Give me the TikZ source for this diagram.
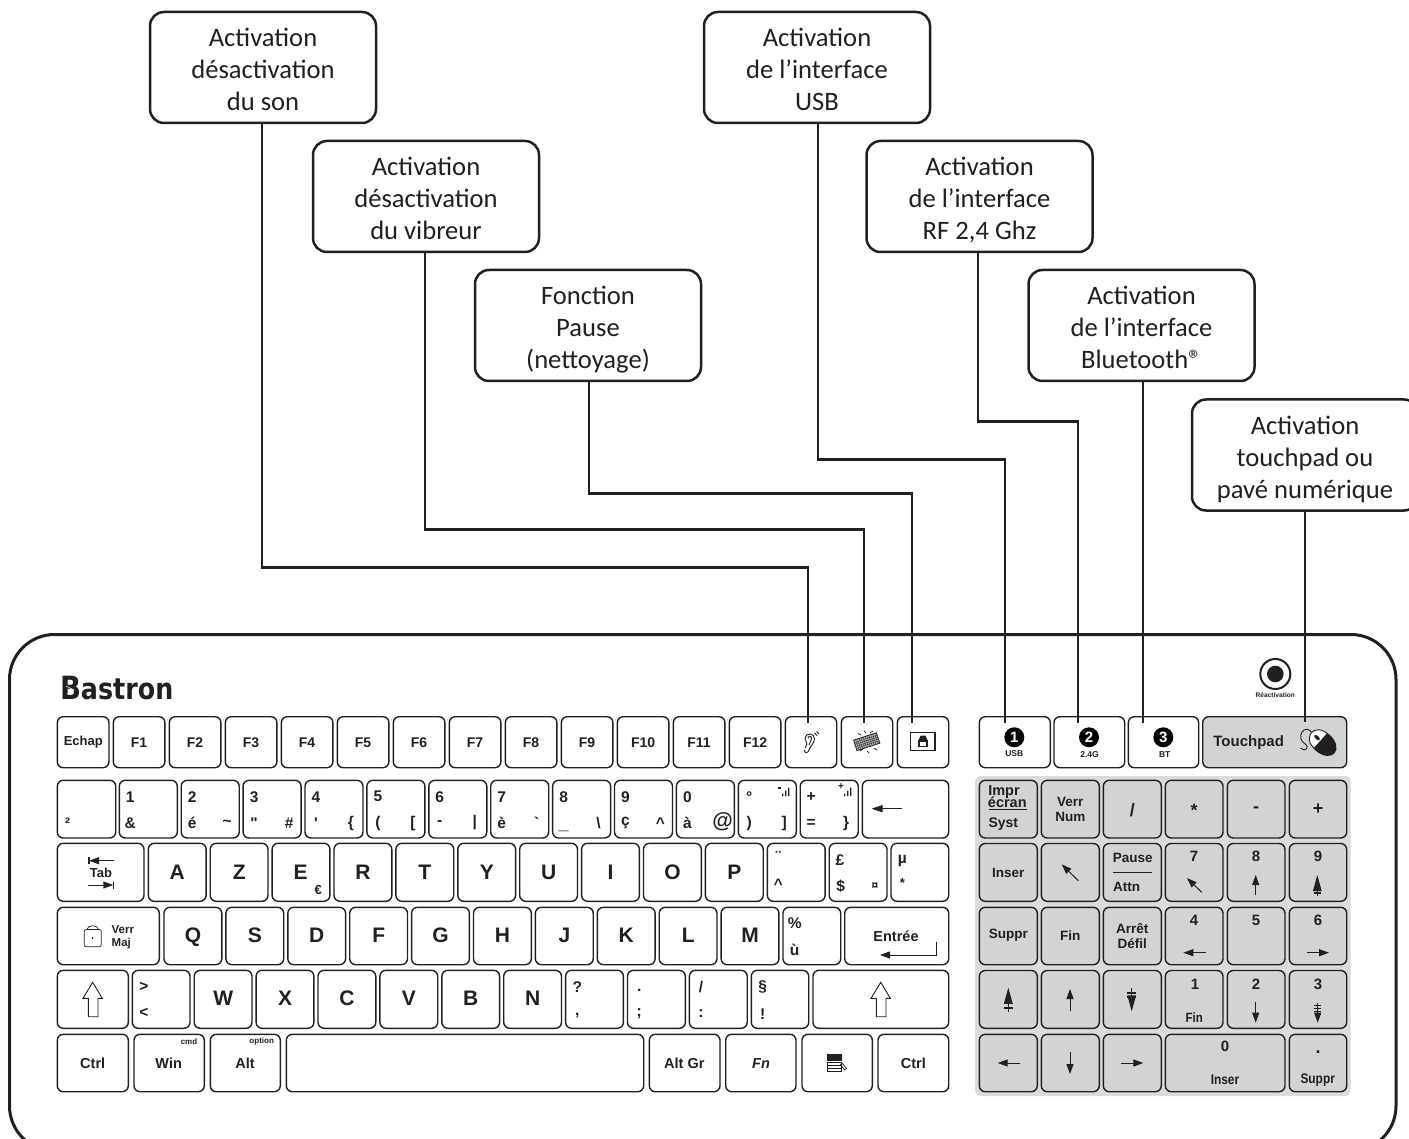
\documentclass[tikz,border=0pt]{standalone}
\usepackage{fontspec}
\usetikzlibrary{arrows.meta}
\newfontfamily\kf{Liberation Sans}
\newfontfamily\cf[Ligatures=Common]{Carlito}
\newfontfamily\lf{DejaVu Sans}
\definecolor{ink}{HTML}{231F20}
\definecolor{padgrey}{HTML}{D1D3D4}
\definecolor{padbg}{HTML}{D9DBDC}
\newcounter{lbc}
\newcommand\cs{\rule[-5pt]{0pt}{32pt}}
\tikzset{
  keybox/.style={draw=ink,line width=1.4pt,rounded corners=6pt,inner sep=0pt,outer sep=0pt},
  padkey/.style={keybox,fill=padgrey},
  keytext/.style={inner sep=0pt,outer sep=0pt,text=ink,font=\kf\bfseries},
  callout/.style={draw=ink,fill=white,line width=2.5pt,rounded corners=14pt,minimum width=226pt,minimum height=111pt,inner sep=0pt,align=center,text=ink,font=\cf\fontsize{26.6}{32}\selectfont},
  conn/.style={draw=ink,line width=2.7pt},
  sa/.style={-{Triangle[length=10pt,width=7pt]},draw=ink,line width=1pt},
  sab/.style={-{Triangle[length=16pt,width=8.5pt]},draw=ink,line width=1pt},
  dsh/.style={draw=ink,line width=1.3pt},
}
% key: [style]{name}{x1}{y1}{x2}{y2}
\newcommand\kk[6][keybox]{\node[#1,minimum width={((#5)-(#3))*1pt},minimum height={((#6)-(#4))*1pt}] (#2) at ({((#3)+(#5))/2},{((#4)+(#6))/2}) {};}
% label: [opts]{size}{x}{y}{text}
\newcommand\lb[5][]{\stepcounter{lbc}\node[keytext,#1] (t\arabic{lbc}) at ({#3},{#4}) {\fontsize{#2}{#2}\selectfont #5};}
% number row key
\newcommand\nk[4]{\kk{n#1}{119.3+61.9*#1}{780.3}{119.3+61.9*#1+58}{838}
  \lb{15.5}{119.3+61.9*#1+11}{796.7}{#2}
  \lb{15.5}{119.3+61.9*#1+11}{823}{#3}
  \lb{15.5}{119.3+61.9*#1+46}{823}{#4}}
% letter key
\newcommand\lk[5]{\kk{k#1}{#2}{#3}{#2+57.8}{#4}\lb{21}{#2+29}{#5}{#1}}
\newcommand\sgn[1]{\fill[ink] (#1,796) rectangle ++(1.4,-2.5) (#1+3,796) rectangle ++(1.4,-5.5) (#1+6,796) rectangle ++(1.4,-8.5);}
\begin{document}
\begin{tikzpicture}[x=1pt,y=-1pt]
\useasboundingbox (0,0) rectangle (1409,1139);
\begin{scope}
\clip (0,0) rectangle (1409,1139);
% keyboard body
\draw[ink,line width=3pt,rounded corners=45pt] (9.5,1151) -- (9.5,634.5) -- (1396,634.5) -- (1396,1151) -- cycle;
% logo
\lb[anchor=base west]{28}{60}{699.3}{\lf\bfseries\scalebox{.86}[1]{\fontsize{32}{32}\selectfont B\fontsize{29.5}{32}\selectfont astron}}
\draw[white,line width=.5pt] (74,690) -- (66,686) (74,690) -- (67,694);
% row 1
\kk{esc}{57.3}{716.7}{109}{767.7}\lb{13}{83.3}{742.3}{Echap}
\foreach \i in {1,...,12}{
  \kk{f\i}{113.3+56*(\i-1)}{716.7}{113.3+56*(\i-1)+51.6}{767.7}
  \lb{14}{139.1+56*(\i-1)}{742.3}{F\i}}
\kk{ear}{785.3}{716.7}{836.7}{767.7}
\kk{vib}{841.3}{716.7}{892.7}{767.7}
\kk{lockk}{897.3}{716.7}{948.7}{767.7}
% ear icon
\draw[ink,line width=.9pt] (804,750) .. controls (805,754) and (808,753) .. (809,750) .. controls (810,746) and (814,744) .. (814.5,739) .. controls (815,733) and (806,732) .. (805,738) .. controls (805,741) and (807,742) .. (807,744) .. controls (807,746) and (805,746) .. (805,748);
\draw[ink,line width=.9pt] (808,738) .. controls (809,735) and (812,736) .. (811.5,739) .. controls (811,742) and (809,743) .. (809,745);
\draw[ink,line width=.9pt] (814.5,733) -- (817,735.5) (816.5,731.5) -- (819,734);
% vibrating keyboard icon
\begin{scope}[shift={(866.7,741.7)},rotate=18]
\fill[gray!60] (-12,-5.5) rectangle (12,5.5);
\draw[ink,line width=.8pt] (-12,-5.5) rectangle (12,5.5);
\foreach \u in {-10,-8,...,10}{\draw[ink,line width=.3pt] (\u,-5.5) -- (\u,5.5);}
\foreach \v in {-3,-1,1,3}{\draw[ink,line width=.3pt] (-12,\v) -- (12,\v);}
\end{scope}
\draw[ink,line width=.7pt] (858,733.5) -- (861,735) (864,730.5) -- (866,733) (870,733) -- (873,731) (860,751) -- (863,749) (867,751) -- (869,753) (874,748) -- (877,750);
% lock key icon
\draw[ink,line width=1.1pt,fill=white] (910.3,732.3) rectangle (935,750.7);
\fill[ink] (920.5,735.5) -- (925.5,735.5) -- (927.7,741) -- (918.3,741) -- cycle;
\draw[ink,line width=1.3pt,fill=white] (918.9,741) rectangle (927.1,746.6);
% row 2
\kk{sq}{57.3}{780.3}{115.7}{838}\lb{15}{67.7}{823.5}{²}
\nk{0}{1}{\&}{}
\nk{1}{2}{é}{\textasciitilde}
\nk{2}{3}{\symbol{34}}{\#}
\nk{3}{4}{\symbol{39}}{\{}
\nk{4}{5}{(}{[}
\nk{5}{6}{-}{|}
\nk{6}{7}{è}{\symbol{96}}
\kk{n7}{119.3+61.9*7}{780.3}{119.3+61.9*7+58}{838}
\lb{15.5}{563.6}{796.7}{8}\lb{18}{563.6}{830.5}{\_}\lb{15.5}{598.6}{823}{\textbackslash}
\nk{8}{9}{ç}{\symbol{94}}
\kk{n9}{119.3+61.9*9}{780.3}{119.3+61.9*9+58}{838}
\lb{15.5}{687.4}{796.7}{0}\lb{15.5}{687.4}{823}{à}\lb{21}{722.5}{822}{@}
\nk{10}{°}{)}{]}
\sgn{782}\fill[ink] (778,787) rectangle ++(3,1.6);
\nk{11}{+}{=}{\}}
\sgn{844}\lb{10}{841}{787}{+}
\kk{bksp}{862.3}{780.3}{948.7}{838}
\coordinate (bk1) at (901.7,808.7);\coordinate (bk2) at (871.5,808.7);
\draw[sa,-{Triangle[length=11pt,width=7pt]}] (bk1) -- (bk2);
% row 3
\kk{tab}{57.3}{843.3}{144}{901.3}
\lb{13}{101}{872.7}{Tab}
\draw[sa] (114,860.7) -- (89,860.7);\draw[ink,line width=1.3pt] (89,857.2) -- (89,864.2);
\draw[sa] (88.3,885) -- (113.3,885);\draw[ink,line width=1.3pt] (113.5,881.5) -- (113.5,888.5);
\lk{A}{148.3}{843.3}{901.3}{872.7}
\lk{Z}{210.2}{843.3}{901.3}{872.7}
\kk{kE}{272.1}{843.3}{329.9}{901.3}\lb{21}{300.7}{872.7}{E}\lb{13}{318.3}{890}{€}
\lk{R}{334}{843.3}{901.3}{872.7}
\lk{T}{395.9}{843.3}{901.3}{872.7}
\lk{Y}{457.8}{843.3}{901.3}{872.7}
\lk{U}{519.7}{843.3}{901.3}{872.7}
\lk{I}{581.6}{843.3}{901.3}{872.7}
\lk{O}{643.5}{843.3}{901.3}{872.7}
\lk{P}{705.4}{843.3}{901.3}{872.7}
\kk{kdier}{767.3}{843.3}{825.1}{901.3}\lb{16}{778.3}{856.5}{¨}\lb{15}{778.3}{884.5}{\symbol{94}}
\kk{kpound}{829.2}{843.3}{887}{901.3}\lb{15.5}{840}{860}{£}\lb{15.5}{840.7}{886}{\$}\lb{12}{875}{886}{¤}
\kk{kmu}{891}{843.3}{948.7}{901.3}\lb{15.5}{902.3}{861}{µ}\lb{13}{902.3}{883.3}{*}
% row 4
\kk{caps}{57.3}{907.3}{159.3}{964.7}
\draw[ink,line width=.7pt,rounded corners=2pt] (84.3,929.5) -- (84.3,946.7) -- (101.3,946.7) -- (101.3,929.5) -- cycle;
\draw[ink,line width=.7pt] (87,929.5) .. controls (87,924.5) and (98.5,924.5) .. (98.5,929.5);
\fill[ink] (92.3,936.5) rectangle ++(1,2);
\lb[anchor=west]{11.5}{111.7}{929.3}{Verr}\lb[anchor=west]{11.5}{111.7}{943.3}{Maj}
\lk{Q}{164}{907.3}{964.7}{937}
\lk{S}{225.9}{907.3}{964.7}{935.7}
\lk{D}{287.8}{907.3}{964.7}{935.7}
\lk{F}{349.7}{907.3}{964.7}{935.7}
\lk{G}{411.6}{907.3}{964.7}{935.7}
\lk{H}{473.5}{907.3}{964.7}{935.7}
\lk{J}{535.4}{907.3}{964.7}{935.7}
\lk{K}{597.3}{907.3}{964.7}{935.7}
\lk{L}{659.2}{907.3}{964.7}{935.7}
\lk{M}{721.1}{907.3}{964.7}{935.7}
\kk{kperc}{783}{907.3}{840.7}{964.7}\lb{15.5}{794.7}{923.3}{\%}\lb{15.5}{794.7}{950}{ù}
\kk{enter}{844.7}{907.3}{948.7}{964.7}\lb{14.5}{896}{936}{Entrée}
\draw[sa,line width=.9pt] (936.7,941.7) -- (936.7,955) -- (880,955);
% row 5
\kk{lsh}{57.3}{970.3}{128.3}{1028.3}
\draw[ink,line width=.9pt] (92.7,982.3) -- (102.3,998.3) -- (98,998.3) -- (98,1016.7) -- (88.3,1016.7) -- (88.3,998.3) -- (83,998.3) -- cycle;
\kk{kgt}{132.3}{970.3}{190}{1028.3}\lb{15.5}{144}{986.7}{>}\lb{15.5}{144}{1013.3}{<}
\lk{W}{194.2}{970.3}{1028.3}{998.3}
\lk{X}{256.1}{970.3}{1028.3}{998.3}
\lk{C}{318}{970.3}{1028.3}{998.3}
\lk{V}{379.9}{970.3}{1028.3}{998.3}
\lk{B}{441.8}{970.3}{1028.3}{998.3}
\lk{N}{503.7}{970.3}{1028.3}{998.3}
\kk{kq}{565.6}{970.3}{623.4}{1028.3}\lb{15.5}{577.3}{986.7}{?}\lb{15.5}{577.3}{1016}{,}
\kk{kdot}{627.5}{970.3}{685.3}{1028.3}\lb{15.5}{639.3}{990}{.}\lb{15.5}{639.3}{1014}{;}
\kk{kslash}{689.4}{970.3}{747.2}{1028.3}\lb{15.5}{701}{987}{/}\lb{15.5}{701}{1014}{:}
\kk{ksec}{751.3}{970.3}{808.7}{1028.3}\lb{15.5}{762.7}{987}{§}\lb{15.5}{762.7}{1014}{!}
\kk{rsh}{813}{970.3}{948.7}{1028.3}
\draw[ink,line width=.9pt] (880.7,982.3) -- (890.3,998.3) -- (886,998.3) -- (886,1016.7) -- (876.3,1016.7) -- (876.3,998.3) -- (871,998.3) -- cycle;
% row 6
\kk{lctrl}{57.3}{1034.3}{128.3}{1091.7}\lb{14.5}{92.7}{1063.3}{Ctrl}
\kk{win}{134}{1034.3}{204.3}{1091.7}\lb{14.5}{168.7}{1063.3}{Win}\lb{8}{189}{1041.7}{cmd}
\kk{alt}{210.3}{1034.3}{280.3}{1091.7}\lb{14.5}{245}{1063.3}{Alt}\lb{8}{261.7}{1041.7}{option}
\kk{space}{286.3}{1034.3}{643.7}{1091.7}
\kk{altgr}{649.3}{1034.3}{720}{1091.7}\lb{14.5}{684.3}{1063.3}{Alt Gr}
\kk{fnk}{725.7}{1034.3}{796}{1091.7}\lb{14.5}{761}{1063.3}{\itshape Fn}
\kk{menu}{802}{1034.3}{872.3}{1091.7}
\fill[ink] (827,1054) rectangle (841.7,1061);
\draw[ink,line width=.9pt] (827.5,1062) rectangle (841,1071.5) (827.5,1065) -- (841,1065) (827.5,1068) -- (841,1068);
\draw[ink,line width=.7pt] (841,1062) -- (846.5,1068.5) -- (844.5,1070) -- (840,1064);
\kk{rctrl}{878}{1034.3}{948.7}{1091.7}\lb{14.5}{913.3}{1063.3}{Ctrl}
% reactivation
\node[circle,draw=ink,line width=2pt,minimum size=30pt,inner sep=0pt] (react) at (1275.3,674) {};
\fill[ink] (react.center) circle (8.3);
\lb{6.6}{1275.3}{695.3}{Réactivation}
% mode keys
\kk{usb}{979.3}{716.7}{1050.3}{767.7}
\kk{rf}{1054}{716.7}{1124.7}{767.7}
\kk{bt}{1128.3}{716.7}{1198.7}{767.7}
\kk[padkey]{tp}{1202.7}{716.7}{1346.7}{767.7}
\foreach \nm/\xx/\dg in {a/1014.3/1,b/1089/2,c/1163.3/3}{
  \node[circle,fill=black,minimum size=20pt,inner sep=0pt,text=white,font=\kf\bfseries\fontsize{15}{15}\selectfont] (num\nm) at (\xx,737.3) {\dg};}
\lb{8.5}{1014.3}{754}{USB}\lb{8.5}{1089.5}{754.5}{2.4G}\lb{8.5}{1164.7}{754.5}{BT}
\lb{15}{1248.7}{743}{Touchpad}
% mouse icon
\draw[ink,line width=.9pt] (1314,737) .. controls (1312,731) and (1308,727.5) .. (1304,730) .. controls (1300,733) and (1300,738) .. (1302,741) .. controls (1304,744) and (1309,745) .. (1306.5,749) .. controls (1305,750.5) and (1303,750) .. (1300.5,748);
\begin{scope}[shift={(1323,743)},rotate=-42]
\fill[ink] (0,0) ellipse (15.5 and 10.5);
\draw[ink,line width=.9pt,fill=white] (-3,-9.8) .. controls (-13,-9.8) and (-15.5,-3) .. (-15.5,0) .. controls (-15.5,3) and (-13,9.8) .. (-3,9.8) -- cycle;
\fill[ink] (-8,0) ellipse (3.5 and 1.8);
\end{scope}
% numpad
\fill[padbg,rounded corners=6pt] (975,776) rectangle (1350.7,1096);
\kk[padkey]{p11}{979.3}{780.3}{1037.3}{838}
\kk[padkey]{p12}{1041.3}{780.3}{1099.3}{838}
\kk[padkey]{p13}{1103.3}{780.3}{1161.3}{838}
\kk[padkey]{p14}{1165.3}{780.3}{1223}{838}
\kk[padkey]{p15}{1227.3}{780.3}{1285}{838}
\kk[padkey]{p16}{1289.3}{780.3}{1346.7}{838}
\kk[padkey]{p21}{979.3}{843.5}{1037.3}{901.3}
\kk[padkey]{p22}{1041.3}{843.5}{1099.3}{901.3}
\kk[padkey]{p23}{1103.3}{843.5}{1161.3}{901.3}
\kk[padkey]{p24}{1165.3}{843.5}{1223}{901.3}
\kk[padkey]{p25}{1227.3}{843.5}{1285}{901.3}
\kk[padkey]{p26}{1289.3}{843.5}{1346.7}{901.3}
\kk[padkey]{p31}{979.3}{907.3}{1037.3}{964.7}
\kk[padkey]{p32}{1041.3}{907.3}{1099.3}{964.7}
\kk[padkey]{p33}{1103.3}{907.3}{1161.3}{964.7}
\kk[padkey]{p34}{1165.3}{907.3}{1223}{964.7}
\kk[padkey]{p35}{1227.3}{907.3}{1285}{964.7}
\kk[padkey]{p36}{1289.3}{907.3}{1346.7}{964.7}
\kk[padkey]{p41}{979.3}{970.5}{1037.3}{1028.3}
\kk[padkey]{p42}{1041.3}{970.5}{1099.3}{1028.3}
\kk[padkey]{p43}{1103.3}{970.5}{1161.3}{1028.3}
\kk[padkey]{p44}{1165.3}{970.5}{1223}{1028.3}
\kk[padkey]{p45}{1227.3}{970.5}{1285}{1028.3}
\kk[padkey]{p46}{1289.3}{970.5}{1346.7}{1028.3}
\kk[padkey]{p51}{979.3}{1034.3}{1037.3}{1091.7}
\kk[padkey]{p52}{1041.3}{1034.3}{1099.3}{1091.7}
\kk[padkey]{p53}{1103.3}{1034.3}{1161.3}{1091.7}
\kk[padkey]{p54}{1165.3}{1034.3}{1285}{1091.7}
\kk[padkey]{p56}{1289.3}{1034.3}{1346.7}{1091.7}
% numpad labels
\lb{14.5}{1004}{791.7}{Impr}\lb{14.5}{1007.3}{802.7}{écran}\lb{14}{1003.3}{824}{Syst}
\draw[ink,line width=1pt] (989.3,809.3) -- (1027.3,809.3);
\lb{13.5}{1070.3}{801.7}{Verr}\lb{13.5}{1070.3}{817.3}{Num}
\lb{18}{1132.3}{810}{/}\lb{18}{1194}{810}{*}\lb{18}{1256}{809.5}{-}\lb{18}{1318}{809}{+}
\lb{13.5}{1008.3}{873.3}{Inser}
\lb{13.5}{1132.7}{857.7}{Pause}\lb{13.5}{1126.7}{886.7}{Attn}
\draw[ink,line width=.9pt] (1113.3,872.3) -- (1151.7,872.3);
\lb{15}{1194}{856.7}{7}\lb{15}{1256}{856.7}{8}\lb{15}{1318}{856.7}{9}
\lb{13.5}{1008.3}{935}{Suppr}\lb{13.5}{1070.3}{936}{Fin}\lb{13.5}{1132.3}{928.3}{Arrêt}\lb{13.5}{1132.3}{944}{Défil}
\lb{15}{1194}{920.7}{4}\lb{15}{1256}{920.7}{5}\lb{15}{1318}{920.7}{6}
\lb{15}{1195}{984}{1}\lb{15}{1256}{984}{2}\lb{15}{1318}{984}{3}
\lb[xscale=.85]{13.5}{1194.3}{1017.7}{Fin}
\lb{15}{1225}{1046.7}{0}\lb[xscale=.85]{14}{1225}{1080}{Inser}
\lb{18}{1318}{1051.7}{.}\lb[xscale=.85]{14}{1317.7}{1080}{Suppr}
% numpad arrows
\draw[sa] (1078.3,880.7) -- (1061.7,864.3);
\draw[sa] (1201.7,892.3) -- (1187,878);
\draw[sa] (1255.7,895) -- (1255.7,875);
\draw[sab] (1317.3,896) -- (1317.3,875);
\draw[dsh] (1313.5,889.5) -- (1321,889.5) (1313.5,893) -- (1321,893);
\draw[sa] (1205.7,952.7) -- (1183.3,952.7);
\draw[sa] (1306.7,952.7) -- (1329,952.7);
\draw[sab] (1008.3,1011.7) -- (1008.3,987.7);
\draw[dsh,line width=1.5pt] (1004,1003.3) -- (1012.6,1003.3) (1004,1008) -- (1012.6,1008);
\draw[sa] (1070,1010.7) -- (1070,989);
\draw[sab] (1131.7,988.3) -- (1131.7,1011.3);
\draw[dsh,line width=1.5pt] (1127.4,993) -- (1136,993) (1127.4,997) -- (1136,997);
\draw[sa] (1255.7,1001.7) -- (1255.7,1022.7);
\draw[sa] (1317.7,1003) -- (1317.7,1022.7);
\draw[dsh,line width=.9pt] (1314,1005.5) -- (1321.4,1005.5) (1314,1008.5) -- (1321.4,1008.5) (1314,1011.5) -- (1321.4,1011.5);
\draw[sa] (1020,1063) -- (997.7,1063);
\draw[sa] (1070,1052) -- (1070,1074);
\draw[sa] (1121,1063) -- (1143.3,1063);
% callouts
\node[callout] (c1) at (263,67.5) {\cs Activation\\\cs désactivation\\\cs du son};
\node[callout] (c2) at (426,196.5) {\cs Activation\\\cs désactivation\\\cs du vibreur};
\node[callout] (c3) at (588,325.5) {\cs Fonction\\\cs Pause\\\cs (nettoyage)};
\node[callout] (c4) at (817,67.5) {\cs Activation\\\cs de l’interface\\\cs USB};
\node[callout] (c5) at (979.5,196.5) {\cs Activation\\\cs de l’interface\\\cs RF 2,4 Ghz};
\node[callout] (c6) at (1141.5,325.5) {\cs Activation\\\cs de l’interface\\\cs Bluetooth®};
\node[callout] (c7) at (1305,455) {\cs Activation\\\cs touchpad ou\\\cs pavé numérique};
% connectors
\coordinate (e1) at (808,723);\coordinate (e2) at (864,723);\coordinate (e3) at (912,723);
\coordinate (e4) at (1005,723);\coordinate (e5) at (1078,723);\coordinate (e6) at (1143,723);\coordinate (e7) at (1305,722);
\draw[conn] ([xshift=-1pt]c1.south) -- ++(0,443) -| (e1);
\draw[conn] ([xshift=-1pt]c2.south) -- ++(0,276) -| (e2);
\draw[conn] ([xshift=1pt]c3.south) -- ++(0,111) -| (e3);
\draw[conn] ([xshift=1pt]c4.south) -- ++(0,335) -| (e4);
\draw[conn] ([xshift=-1.5pt]c5.south) -- ++(0,168) -| (e5);
\draw[conn] (c6.south -| e6) -- (e6);
\draw[conn] (c7.south) -- (e7);
\end{scope}
\end{tikzpicture}
\end{document}
